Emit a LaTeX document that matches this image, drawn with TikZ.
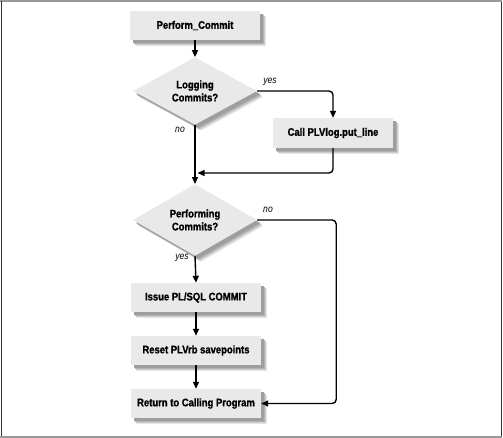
\documentclass[tikz,border=0pt]{standalone}
\usepackage{fontspec}
\setmainfont{Liberation Sans}[FakeStretch=0.86, BoldFeatures={FakeBold=1}]
\usetikzlibrary{shapes.geometric,shadows,arrows.meta}
\definecolor{boxgray}{HTML}{E9E9E9}
\begin{document}
\begin{tikzpicture}[x=1pt,y=-1pt,
  softshadow/.style={
    general shadow={shadow xshift=6pt,shadow yshift=-6pt,fill=black!10},
    general shadow={shadow xshift=5pt,shadow yshift=-5pt,fill=black!20},
    general shadow={shadow xshift=4pt,shadow yshift=-4pt,fill=black!30},
    general shadow={shadow xshift=3pt,shadow yshift=-3pt,fill=black!38}},
  procbox/.style={rectangle, fill=boxgray, minimum width=130pt, minimum height=29pt,
    inner sep=0pt, font=\fontsize{11}{13}\selectfont\bfseries, softshadow},
  decision/.style={diamond, fill=boxgray, minimum width=124pt, minimum height=56pt,
    inner sep=0pt, align=center, font=\fontsize{11}{13}\selectfont\bfseries, softshadow},
  lab/.style={font=\fontsize{10}{12}\selectfont\itshape, inner sep=0pt},
  arr/.style={line width=1.4pt, -{Triangle[length=7pt,width=6pt]}, rounded corners=4pt}]
\useasboundingbox (0,0) rectangle (503,438);
% frame
\draw[black!40, line width=1.6pt] (0,1) -- (502,1);
\draw[black!40, line width=1.6pt] (0,437) -- (502,437);
\draw[black!80, line width=1.6pt] (1.5,1) -- (1.5,436);
\draw[black!80, line width=1.6pt] (501.5,2) -- (501.5,436);
% nodes
\node[procbox] (pc) at (195,25.5) {Perform\_Commit};
\node[decision] (d1) at (195,91) {Logging\\Commits?};
\node[procbox, minimum width=120pt, minimum height=30pt] (call) at (333,133) {Call PLVlog.put\_line};
\node[decision] (d2) at (195,220) {Performing\\Commits?};
\node[procbox] (issue) at (196,297.5) {Issue PL/SQL COMMIT};
\node[procbox] (reset) at (196,350.5) {Reset PLVrb savepoints};
\node[procbox] (ret) at (196,403.5) {Return to Calling Program};
\coordinate (m) at (197.5,173);
% labels
\node[lab] (y1) at (270,82) {yes};
\node[lab] (n1) at (180,130) {no};
\node[lab] (n2) at (268,210) {no};
\node[lab] (y2) at (182,258) {yes};
% connectors
\draw[arr] (pc) -- (d1);
\draw[arr] (d1.east) -| (call.north);
\draw[arr] (call.south) |- (m);
\draw[arr] (d1.south) -- (d2.north);
\draw[arr] (d2.south) -- (issue.north);
\draw[arr] (issue) -- (reset);
\draw[arr] (reset) -- (ret);
\draw[arr] (d2.east) -- ([xshift=79pt]d2.east) |- (ret.east);
\end{tikzpicture}
\end{document}
